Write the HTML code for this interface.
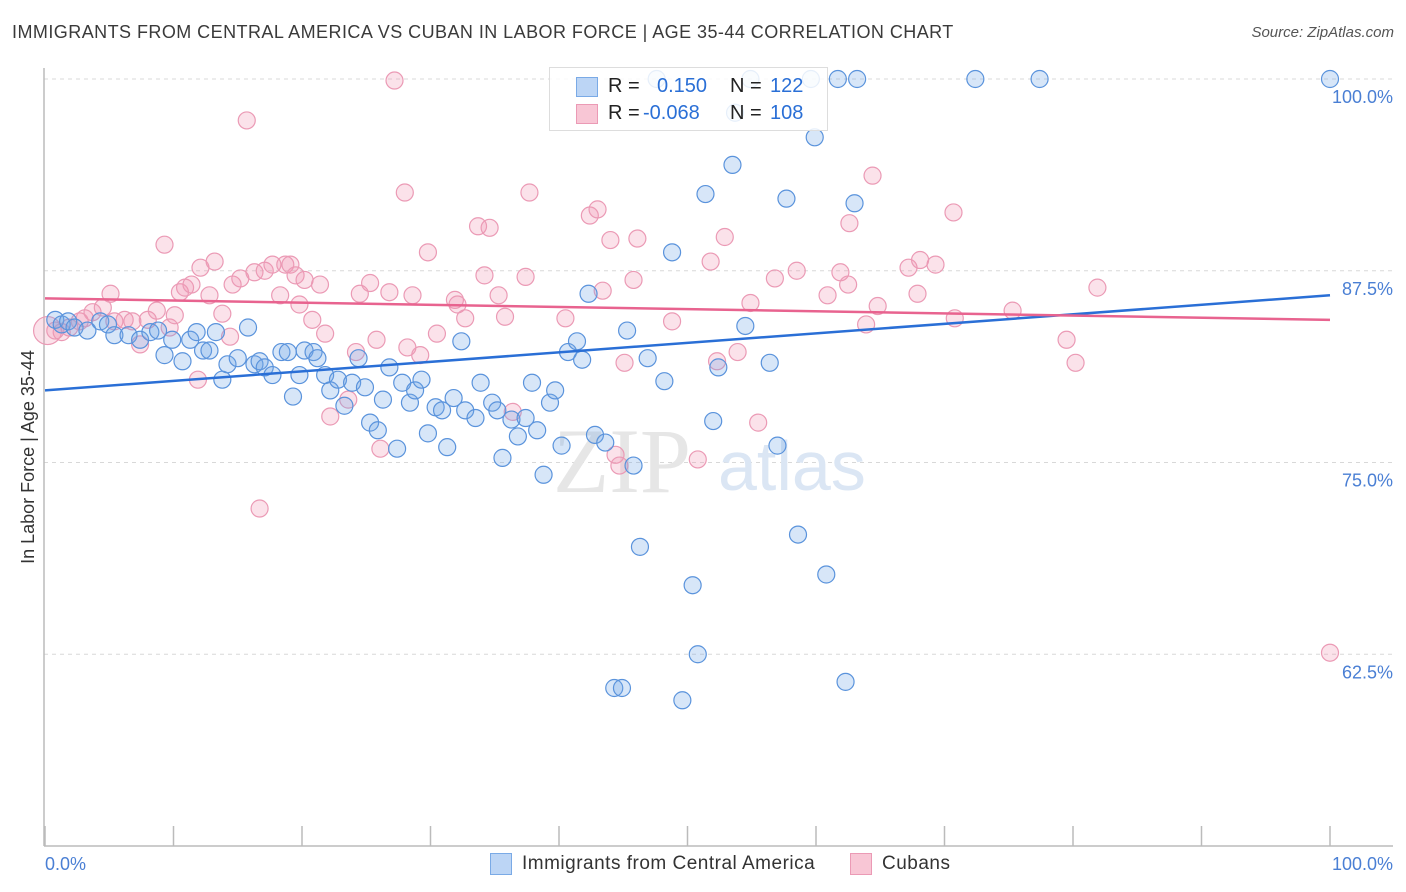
<!DOCTYPE html>
<html><head><meta charset="utf-8">
<style>
body{margin:0;background:#fff;font-family:"Liberation Sans",sans-serif;}
#wrap{position:relative;width:1406px;height:892px;overflow:hidden;}
.t{position:absolute;white-space:nowrap;}
</style></head><body>
<div id="wrap">
<div class="t" style="left:12px;top:22px;font-size:18px;letter-spacing:0.45px;color:#3a3a3a;">IMMIGRANTS FROM CENTRAL AMERICA VS CUBAN IN LABOR FORCE | AGE 35-44 CORRELATION CHART</div>
<div class="t" style="right:12px;top:24px;font-size:15px;color:#555;font-style:italic;">Source: ZipAtlas.com</div>
<svg id="plot" width="1406" height="892" style="position:absolute;left:0;top:0"></svg>
</div>
<script>
const xTicks=[0,10,20,30,40,50,60,70,80,90,100];
const yTicks=[62.5,75,87.5,100];
const yTickLabels=["62.5%","75.0%","87.5%","100.0%"];
const blueX=[0.8,1.3,1.8,2.3,3.3,4.3,4.9,5.4,6.5,7.4,8.2,8.8,9.3,9.9,10.7,11.3,11.8,12.3,12.8,13.3,13.8,14.2,15.0,15.8,16.3,16.7,17.1,17.7,18.4,18.9,19.3,19.8,20.2,20.9,21.2,21.8,22.2,22.8,23.3,23.9,24.4,24.9,25.3,25.9,26.3,26.8,27.4,27.8,28.4,28.8,29.3,29.8,30.4,30.9,31.3,31.8,32.4,32.7,33.5,33.9,34.8,35.2,35.6,36.3,36.8,37.4,37.9,38.3,38.8,39.3,39.7,40.2,40.7,41.4,41.8,42.3,42.8,43.6,44.3,44.9,45.3,45.8,46.3,46.9,48.2,48.8,49.6,50.4,50.8,51.4,52.0,52.4,53.5,54.5,56.4,57.0,57.7,58.6,59.9,60.8,61.7,62.3,63.0,63.2,72.4,77.4,100,59.6,47.6,54.9,53.7];
const blueY=[84.3,84.0,84.2,83.8,83.6,84.2,84.0,83.3,83.3,83.0,83.5,83.6,82.0,83.0,81.6,83.0,83.5,82.3,82.3,83.5,80.4,81.4,81.8,83.8,81.4,81.6,81.2,80.7,82.2,82.2,79.3,80.7,82.3,82.2,81.8,80.7,79.7,80.4,78.7,80.2,81.8,79.9,77.6,77.1,79.1,81.2,75.9,80.2,78.9,79.7,80.4,76.9,78.6,78.4,76.0,79.2,82.9,78.4,77.9,80.2,78.9,78.4,75.3,77.8,76.7,77.9,80.2,77.1,74.2,78.9,79.7,76.1,82.2,82.9,81.7,86.0,76.8,76.3,60.3,60.3,83.6,74.8,69.5,81.8,80.3,88.7,59.5,67.0,62.5,92.5,77.7,81.2,94.4,83.9,81.5,76.1,92.2,70.3,96.2,67.7,100,60.7,91.9,100,100,100,100,100,100,100,97.8];
const pinkX=[0.2,0.8,1.3,1.9,2.7,3.1,3.7,4.5,5.1,5.4,6.2,6.8,7.4,8.0,8.7,9.3,9.7,10.1,10.5,10.9,11.4,11.9,12.1,12.8,13.2,13.8,14.4,14.6,15.2,15.7,16.3,16.7,17.1,17.7,18.3,18.7,19.1,19.5,19.8,20.2,20.8,21.4,21.8,22.2,23.6,24.2,24.5,25.3,25.8,26.1,26.8,27.2,28.0,28.2,28.6,29.2,29.8,30.5,31.9,32.1,32.7,33.7,34.2,34.6,35.3,35.8,36.4,37.4,37.7,40.5,42.4,43.0,43.4,44.0,44.4,44.7,45.1,45.8,46.1,48.8,50.8,51.8,52.3,52.9,53.9,54.9,55.5,56.8,58.5,60.9,61.9,62.5,62.6,63.9,64.4,64.8,67.2,67.9,68.1,69.3,70.7,70.8,75.3,79.5,80.2,81.9,100];
const pinkY=[83.6,83.6,83.5,83.8,84.2,84.4,84.8,85.1,86.0,84.2,84.3,84.2,82.7,84.3,84.9,89.2,83.8,84.6,86.1,86.4,86.6,80.4,87.7,85.9,88.1,84.7,83.2,86.6,87.0,97.3,87.4,72.0,87.5,87.9,85.9,87.9,87.9,87.2,85.3,86.9,84.3,86.6,83.4,78.0,79.1,82.2,86.0,86.7,83.0,75.9,86.1,99.9,92.6,82.5,85.9,82.0,88.7,83.4,85.6,85.3,84.4,90.4,87.2,90.3,85.9,84.5,78.3,87.1,92.6,84.4,91.1,91.5,86.2,89.5,75.5,74.8,81.5,86.9,89.6,84.2,75.2,88.1,81.6,89.7,82.2,85.4,77.6,87.0,87.5,85.9,87.4,86.6,90.6,84.0,93.7,85.2,87.7,86.0,88.2,87.9,91.3,84.4,84.9,83.0,81.5,86.4,62.6];
const blueTrend=[79.7,85.9];
const pinkTrend=[85.7,84.3];

const NS="http://www.w3.org/2000/svg";
const svg=document.getElementById('plot');
const X0=45,X1=1330,YTOP=79,YBOT=846;
const sx=v=>X0+(v/100)*(X1-X0);
const sy=v=>YTOP+(100-v)/50*(YBOT-YTOP);
function mk(tag,attrs,parent){const e=document.createElementNS(NS,tag);for(const k in attrs)e.setAttribute(k,attrs[k]);(parent||svg).appendChild(e);return e;}

yTicks.forEach((v,i)=>{
  const g=mk('line',{x1:44,x2:1393,y1:sy(v),y2:sy(v),stroke:'#d8d8d8','stroke-dasharray':'4,4','stroke-width':1});
  
  
  const t=mk('text',{x:1393,y:sy(v)+24,'text-anchor':'end','font-size':18,fill:'#4a7fd4','font-family':'Liberation Sans, sans-serif'});
  t.textContent=yTickLabels[i];
  
  
});
const ya=mk('line',{x1:44,x2:44,y1:68,y2:846,stroke:'#bbb','stroke-width':1.5});


const xa=mk('line',{x1:44,x2:1393,y1:846,y2:846,stroke:'#bbb','stroke-width':1.5});


xTicks.forEach(v=>{
  const l=mk('line',{x1:sx(v),x2:sx(v),y1:826,y2:846,stroke:'#bbb','stroke-width':1.5});
  
  
});
const xl0=mk('text',{x:45,y:870,'font-size':18,fill:'#4a7fd4','font-family':'Liberation Sans, sans-serif'});xl0.textContent='0.0%';


const xl1=mk('text',{x:1393,y:870,'text-anchor':'end','font-size':18,fill:'#4a7fd4','font-family':'Liberation Sans, sans-serif'});xl1.textContent='100.0%';


const yt=mk('text',{x:0,y:0,transform:'translate(34,457) rotate(-90)','text-anchor':'middle','font-size':18,fill:'#333','font-family':'Liberation Sans, sans-serif'});yt.textContent='In Labor Force | Age 35-44';



const w1=mk('text',{x:553,y:492,'font-size':92,fill:'#e6e6e6','font-family':'Liberation Serif, serif'});w1.textContent='ZIP';


const w2=mk('text',{x:718,y:490,'font-size':70,fill:'#dbe6f4','font-family':'Liberation Sans, sans-serif'});w2.textContent='atlas';



pinkX.forEach((v,i)=>{
  const c=mk('circle',{cx:sx(v),cy:sy(pinkY[i]),r:i===0?14:8.5,fill:'rgba(242,150,180,0.28)',stroke:'#eb9ab5','stroke-width':1.2});
  
  
});
blueX.forEach((v,i)=>{
  const c=mk('circle',{cx:sx(v),cy:sy(blueY[i]),r:8.5,fill:'rgba(110,165,230,0.28)',stroke:'#5a93dc','stroke-width':1.2});
  
  
});
const bt=mk('line',{x1:sx(0),y1:sy(blueTrend[0]),x2:sx(100),y2:sy(blueTrend[1]),stroke:'#2a6fd6','stroke-width':2.5});


const pt=mk('line',{x1:sx(0),y1:sy(pinkTrend[0]),x2:sx(100),y2:sy(pinkTrend[1]),stroke:'#e8638f','stroke-width':2.5});


</script>
<div style="position:absolute;left:549px;top:67px;width:277px;height:62px;border:1px solid #ddd;background:rgba(255,255,255,0.85);font-size:20px;">
  <div style="position:absolute;left:26px;top:9px;width:20px;height:18px;background:#bcd5f5;border:1px solid #7aaae6;"></div>
  <div class="t" style="left:58px;top:7px;color:#222;">R =</div>
  <div class="t" style="left:107px;top:7px;color:#2a6fd6;">0.150</div>
  <div class="t" style="left:180px;top:7px;color:#222;">N =</div>
  <div class="t" style="left:220px;top:7px;color:#2a6fd6;">122</div>
  <div style="position:absolute;left:26px;top:36px;width:20px;height:18px;background:#f8c6d5;border:1px solid #eb9ab5;"></div>
  <div class="t" style="left:58px;top:34px;color:#222;">R =</div>
  <div class="t" style="left:93px;top:34px;color:#2a6fd6;">-0.068</div>
  <div class="t" style="left:180px;top:34px;color:#222;">N =</div>
  <div class="t" style="left:220px;top:34px;color:#2a6fd6;">108</div>
</div>
<div style="position:absolute;left:490px;top:853px;font-size:19px;">
  <div style="position:absolute;left:0;top:0;width:20px;height:20px;background:#bcd5f5;border:1px solid #7aaae6;"></div>
  <div class="t" style="left:32px;top:0;color:#333;letter-spacing:0.5px;">Immigrants from Central America</div>
</div>
<div style="position:absolute;left:850px;top:853px;font-size:19px;">
  <div style="position:absolute;left:0;top:0;width:20px;height:20px;background:#f8c6d5;border:1px solid #eb9ab5;"></div>
  <div class="t" style="left:32px;top:0;color:#333;letter-spacing:0.5px;">Cubans</div>
</div>
</body></html>
